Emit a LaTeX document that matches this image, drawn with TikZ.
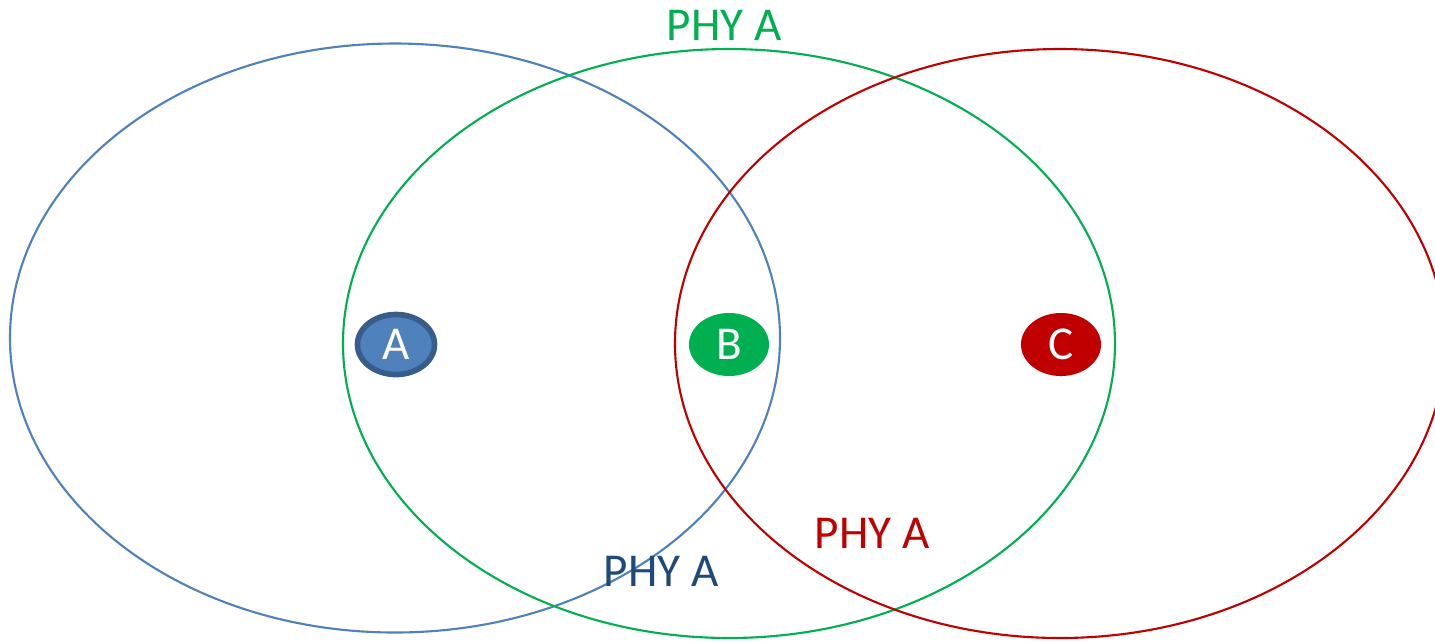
\documentclass[tikz,border=0pt]{standalone}
\usepackage{fontspec}
\setmainfont{Carlito}
\usetikzlibrary{shapes.geometric}
\definecolor{PhyBlue}{HTML}{4F81BD}
\definecolor{PhyBlueDark}{HTML}{385D8A}
\definecolor{PhyBlueText}{HTML}{1F497D}
\definecolor{PhyGreen}{HTML}{00B050}
\definecolor{PhyRed}{HTML}{C00000}
\newcommand{\PhyFont}{\fontsize{13.4}{15}\selectfont}
\tikzset{
  range line/.style={line width=0.6pt},
  station/.style={ellipse,minimum width=0.80cm,minimum height=0.63cm,inner sep=0pt,
    text=white,font=\PhyFont},
  phy label/.style={font=\PhyFont,inner sep=0pt}
}

\begin{document}
\begin{tikzpicture}[x=0.01cm,y=-0.01cm]
  % pixel grid of the reference, y pointing down
  \path[use as bounding box] (0,0) rectangle (1435,641);
  \clip (0,0) rectangle (1435,641);

  % ranges
  \draw[range line,PhyBlue] (395,338) ellipse [x radius=385,y radius=294.5];
  \draw[range line,PhyGreen] (729,343.5) ellipse [x radius=386,y radius=294.5];
  \draw[range line,PhyRed] (1060,343.5) ellipse [x radius=385,y radius=294.5];

  % stations
  \node[station,fill=PhyBlue,draw=PhyBlueDark,line width=1.6pt,
    minimum width=0.77cm,minimum height=0.60cm] (staA) at (396,344.5) {A};
  \node[station,fill=PhyGreen] (staB) at (729,344.5) {B};
  \node[station,fill=PhyRed] (staC) at (1061,344.5) {C};

  \node[phy label,text=PhyGreen] (phyB) at (724,25) {PHY A};
  \node[phy label,text=PhyBlueText] (phyA) at (661,571) {PHY A};
  \node[phy label,text=PhyRed] (phyC) at (872,533) {PHY A};
\end{tikzpicture}
\end{document}
